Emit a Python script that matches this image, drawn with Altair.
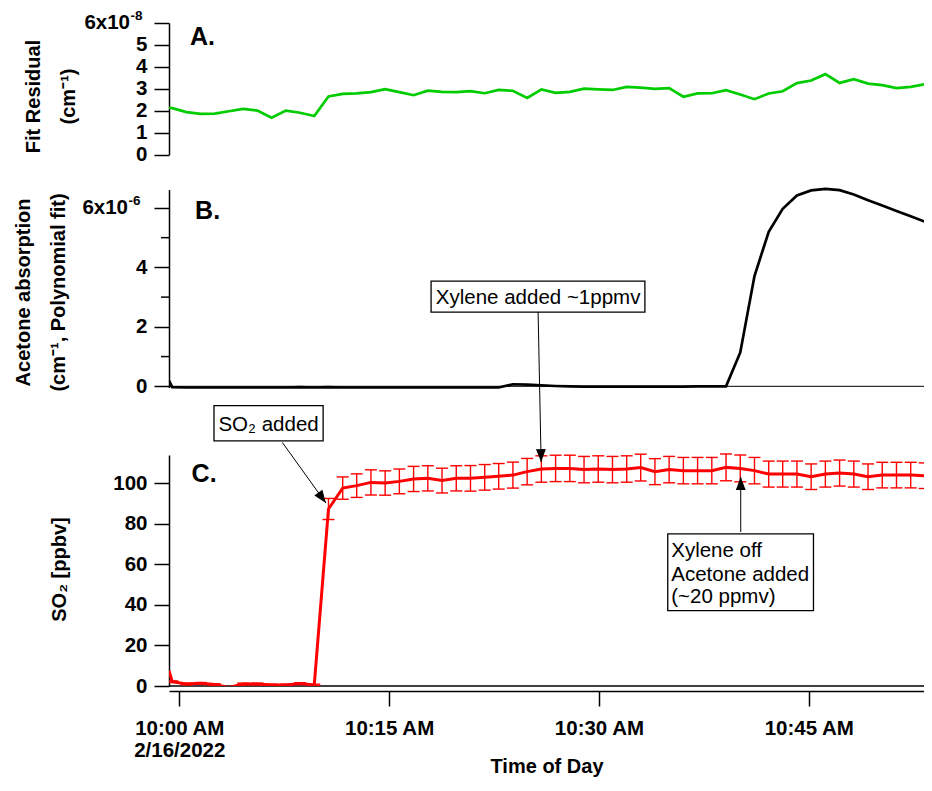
import altair as alt
import pandas as pd

FONT = "Liberation Sans"
DAY = "2022-02-16T"

# ---------------- data ----------------
times = ["09:59:16", "09:59:30", "10:00:31", "10:01:32", "10:02:32", "10:03:33", "10:04:34",
         "10:05:35", "10:06:36", "10:07:37", "10:08:38", "10:09:39", "10:10:40", "10:11:41",
         "10:12:41", "10:13:42", "10:14:43", "10:15:44", "10:16:45", "10:17:46", "10:18:47",
         "10:19:48", "10:20:49", "10:21:50", "10:22:50", "10:23:51", "10:24:52", "10:25:53",
         "10:26:54", "10:27:55", "10:28:56", "10:29:57", "10:30:58", "10:31:59", "10:32:59",
         "10:34:00", "10:35:01", "10:36:02", "10:37:03", "10:38:04", "10:39:05", "10:40:06",
         "10:41:07", "10:42:08", "10:43:08", "10:44:09", "10:45:10", "10:46:11", "10:47:12",
         "10:48:13", "10:49:14", "10:50:15", "10:51:16", "10:52:17", "10:53:17", "10:53:44"]

# fit residual, units of 1e-8 cm^-1
fit_residual = [2.14, 2.12, 1.94, 1.86, 1.87, 1.98, 2.09, 2.01, 1.68, 2.01, 1.91, 1.76,
                2.65, 2.77, 2.79, 2.85, 2.99, 2.85, 2.71, 2.92, 2.86, 2.85,
                2.90, 2.80, 2.95, 2.91, 2.59, 2.97, 2.82, 2.86, 3.01, 2.98,
                2.95, 3.09, 3.06, 3.00, 3.03, 2.64, 2.79, 2.80, 2.94, 2.74,
                2.53, 2.79, 2.89, 3.26, 3.38, 3.67, 3.27, 3.44, 3.24, 3.17,
                3.03, 3.09, 3.21, 3.06]

# acetone absorption, units of 1e-6 cm^-1
acetone = [0.19, -0.03, -0.04, -0.04, -0.04, -0.04, -0.04, -0.04, -0.04, -0.04, -0.03, -0.04,
           -0.03, -0.04, -0.04, -0.04, -0.04, -0.04, -0.04, -0.04, -0.04, -0.04,
           -0.04, -0.04, -0.04, 0.07, 0.06, 0.03, 0.01, 0.00, -0.01, -0.01,
           -0.01, -0.01, -0.01, -0.01, -0.01, -0.01, 0.00, 0.00, 0.00, 1.14,
           3.71, 5.20, 5.97, 6.42, 6.59, 6.64, 6.60, 6.45, 6.26, 6.08,
           5.90, 5.72, 5.54, 6.00]

# SO2 [ppbv]
so2 = [7.6, 2.1, 1.0, 1.3, 0.7, -0.7, 1.0, 1.0, 0.5, 0.5, 1.2, 0.5,
       87.2, 97.5, 98.7, 100.3, 100.0, 100.8, 102.0, 102.3, 101.2, 102.3,
       102.3, 102.8, 103.3, 103.9, 105.6, 106.9, 107.2, 107.2, 106.6, 106.9,
       106.6, 106.9, 107.6, 105.6, 106.6, 106.1, 106.1, 106.1, 107.7, 107.2,
       106.1, 104.4, 104.4, 104.4, 103.1, 104.4, 104.9, 104.4, 103.1, 103.9,
       103.9, 103.9, 103.6, 102.8]

so2_err = [None, 0.4, 0.4, 0.4, 0.4, 0.4, 0.4, 0.4, 0.4, 0.4, 0.4, 0.4,
           5.2, 5.5, 5.8, 6.2, 6.0, 6.1, 6.2, 6.2, 6.1, 6.2,
           6.3, 6.3, 6.3, 6.4, 6.5, 6.5, 6.5, 6.5, 6.5, 6.5,
           6.5, 6.5, 6.6, 6.4, 6.5, 6.5, 6.5, 6.5, 6.6, 6.6,
           6.5, 6.4, 6.4, 6.4, 6.3, 6.4, 6.4, 6.4, 6.3, 6.3,
           6.3, 6.3, 6.3, None]

# annotations (x = time of day, y in the units of the panel they sit on)
letter_labels = ["A.", "B.", "C."]
letter_times = ["10:00:46", "10:01:08", "10:00:53"]
letter_values = [5.35, 5.89, 104.5]

top_tick_label = "6x10"
exponent_labels = ["-8", "-6"]

box_t1 = ["10:02:29", "10:18:00", "10:34:55"]
box_t2 = ["10:10:17", "10:33:17", "10:45:20"]
box_v1 = [120.8, 184.2, 37.1]
box_v2 = [138.1, 199.5, 74.9]

center_texts = ["SO\u2082 added", "Xylene added ~1ppmv"]
center_times = ["10:06:23", "10:25:39"]
center_values = [128.8, 191.1]

left_texts = ["Xylene off", "Acetone added", "(~20 ppmv)"]
left_times = ["10:35:10", "10:35:10", "10:35:10"]
left_values = [66.4, 54.9, 43.7]

arrow_t1 = ["10:07:22", "10:25:39", "10:40:08"]
arrow_v1 = [120.0, 184.2, 75.9]
arrow_t2 = ["10:10:29", "10:25:52", "10:40:08"]
arrow_v2 = [90.1, 110.3, 103.0]
arrow_angle = [324.3, 358.9, 180.0]

minor_ticks_b = [1, 3, 5]

# ---------------- tables ----------------
def ts(lst):
    return [DAY + t for t in lst]

df = pd.DataFrame({"time": ts(times), "resid": fit_residual, "acetone": acetone,
                   "so2": so2, "err": so2_err})
err_df = df.dropna(subset=["err"]).copy()
err_df["lo"] = err_df["so2"] - err_df["err"]
err_df["hi"] = err_df["so2"] + err_df["err"]

letters = pd.DataFrame({"time": ts(letter_times), "v": letter_values, "label": letter_labels})
boxes = pd.DataFrame({"time": ts(box_t1), "t2": ts(box_t2), "v": box_v1, "v2": box_v2})
ctext = pd.DataFrame({"time": ts(center_times), "v": center_values, "label": center_texts})
ltext = pd.DataFrame({"time": ts(left_times), "v": left_values, "label": left_texts})
arrows = pd.DataFrame({"time": ts(arrow_t1), "t2": ts(arrow_t2), "v": arrow_v1, "v2": arrow_v2})
heads = pd.DataFrame({"time": ts(arrow_t2), "v": arrow_v2, "angle": arrow_angle})
zero_df = pd.DataFrame({"v": [0]})
minor_df = pd.DataFrame({"v": minor_ticks_b})
top_a = pd.DataFrame({"v": [6], "label": [top_tick_label], "exp": [exponent_labels[0]]})
top_b = pd.DataFrame({"v": [6], "label": [top_tick_label], "exp": [exponent_labels[1]]})

# ---------------- scales & axes ----------------
def dt(h, m, s=0):
    return alt.DateTime(year=2022, month=2, date=16, hours=h, minutes=m, seconds=s)

x_scale = alt.Scale(domain=[dt(9, 59, 16), dt(10, 53, 14)])
x_axis = alt.Axis(
    orient="bottom", values=[dt(10, 0), dt(10, 15), dt(10, 30), dt(10, 45)],
    labelExpr="minutes(datum.value) == 0 ? [timeFormat(datum.value, '%-I:%M %p'), "
              "timeFormat(datum.value, '%-m/%-d/%Y')] : timeFormat(datum.value, '%-I:%M %p')",
    title="Time of Day", offset=5, tickSize=15, tickWidth=1.5, tickColor="black",
    domainColor="black", domainWidth=1.5, labelFont=FONT, labelFontSize=20.5,
    labelFontWeight="bold", labelColor="black", labelPadding=12, labelLineHeight=22,
    labelFlush=False, labelOverlap=False, titleFont=FONT, titleFontSize=20,
    titleFontWeight="bold", titleColor="black", titleY=75, titleBaseline="middle",
    grid=False)


def X(field="time:T"):
    return alt.X(field, scale=x_scale, axis=x_axis)


def y_axis(values, label_expr, title, title_x, title_y, lh):
    return alt.Axis(
        orient="left", values=values, labelExpr=label_expr, title=title,
        titleX=title_x, titleY=title_y, titleAngle=270, titleAlign="center",
        titleBaseline="alphabetic", titleLineHeight=lh, titleFont=FONT, titleFontSize=20,
        titleFontWeight="bold", titleColor="black", labelFont=FONT, labelFontSize=20.5,
        labelFontWeight="bold", labelColor="black", labelPadding=7, tickSize=15,
        tickWidth=1.5, tickColor="black", domainColor="black", domainWidth=1.5,
        grid=False, labelOverlap=False, labelFlush=False)


a_scale = alt.Scale(domain=[0, 6], range=[131.7, 0], nice=False, zero=False)
a_axis = y_axis([0, 1, 2, 3, 4, 5, 6], "datum.value == 6 ? '' : datum.label",
                ["Fit Residual", "(cm\u207b\u00b9)"], -130, 73, 35)

b_scale = alt.Scale(domain=[-0.04, 6.62], range=[364.5, 166.5], nice=False, zero=False)
b_axis = y_axis([0, 2, 4, 6], "datum.value == 6 ? '' : datum.label",
                ["Acetone absorption", "(cm\u207b\u00b9, Polynomial fit)"], -139.5, 269, 35)

c_scale = alt.Scale(domain=[0, 113.8], range=[663, 432], nice=False, zero=False)
c_axis = y_axis([0, 20, 40, 60, 80, 100], "datum.label", "SO\u2082 [ppbv]", -104, 546, 24)


def YA(f):
    return alt.Y(f, scale=a_scale, axis=a_axis)


def YB(f):
    return alt.Y(f, scale=b_scale, axis=b_axis)


def YC(f):
    return alt.Y(f, scale=c_scale, axis=c_axis)


def letter_mark(rows):
    return alt.Chart(letters.iloc[rows]).mark_text(
        align="left", baseline="middle", font=FONT, fontSize=25, fontWeight="bold",
        color="black")


def top_label_marks(data, yfun, right_edge):
    base = alt.Chart(data).mark_text(
        align="right", baseline="middle", font=FONT, fontSize=20.5, fontWeight="bold",
        color="black").encode(y=yfun("v:Q"), x=alt.value(right_edge), text="label:N")
    sup = alt.Chart(data).mark_text(
        align="left", baseline="middle", font=FONT, fontSize=13.5, fontWeight="bold",
        color="black", dy=-7).encode(y=yfun("v:Q"), x=alt.value(right_edge + 0.5),
                                      text="exp:N")
    return base, sup


# ---------------- panel A ----------------
a_line = alt.Chart(df).mark_line(color="#00CC00", strokeWidth=2.7, clip=True).encode(
    x=X(), y=YA("resid:Q"))
a_letter = letter_mark([0]).encode(x=X(), y=YA("v:Q"), text="label:N")
a_top, a_sup = top_label_marks(top_a, YA, -39)
panel_a = alt.layer(a_line, a_letter, a_top, a_sup)

# ---------------- panel B ----------------
b_zero = alt.Chart(zero_df).mark_rule(color="black", strokeWidth=1).encode(y=YB("v:Q"))
b_minor = alt.Chart(minor_df).mark_rule(color="black", strokeWidth=1.5).encode(
    y=YB("v:Q"), x=alt.value(-8), x2=alt.value(0))
b_line = alt.Chart(df).mark_line(color="black", strokeWidth=2.7, clip=True).encode(
    x=X(), y=YB("acetone:Q"))
b_letter = letter_mark([1]).encode(x=X(), y=YB("v:Q"), text="label:N")
b_top, b_sup = top_label_marks(top_b, YB, -41)
panel_b = alt.layer(b_zero, b_minor, b_line, b_letter, b_top, b_sup)

# ---------------- panel C ----------------
c_zero = alt.Chart(zero_df).mark_rule(color="black", strokeWidth=1.3).encode(y=YC("v:Q"))
c_err = alt.Chart(err_df).mark_rule(color="red", strokeWidth=1.4, clip=True).encode(
    x=X(), y=YC("lo:Q"), y2="hi:Q")
c_cap_lo = alt.Chart(err_df).mark_tick(color="red", orient="horizontal", size=12,
                                       thickness=1.4, opacity=1, clip=True).encode(
    x=X(), y=YC("lo:Q"))
c_cap_hi = alt.Chart(err_df).mark_tick(color="red", orient="horizontal", size=12,
                                       thickness=1.4, opacity=1, clip=True).encode(
    x=X(), y=YC("hi:Q"))
c_line = alt.Chart(df).mark_line(color="red", strokeWidth=3, clip=True).encode(
    x=X(), y=YC("so2:Q"))
c_letter = letter_mark([2]).encode(x=X(), y=YC("v:Q"), text="label:N")

ann_box = alt.Chart(boxes).mark_rect(fill="white", stroke="black", strokeWidth=1.3).encode(
    x=X(), x2="t2:T", y=YC("v:Q"), y2="v2:Q")
ann_ctext = alt.Chart(ctext).mark_text(
    align="center", baseline="middle", font=FONT, fontSize=20.5, color="black"
).encode(x=X(), y=YC("v:Q"), text="label:N")
ann_ltext = alt.Chart(ltext).mark_text(
    align="left", baseline="middle", font=FONT, fontSize=20.5, color="black"
).encode(x=X(), y=YC("v:Q"), text="label:N")
ann_rule = alt.Chart(arrows).mark_rule(color="black", strokeWidth=1).encode(
    x=X(), x2="t2:T", y=YC("v:Q"), y2="v2:Q")
ann_head = alt.Chart(heads).mark_point(
    shape="M0,0 L-0.38,-1 L0.38,-1 Z", filled=True, color="black", size=676, opacity=1,
    strokeWidth=0
).encode(x=X(), y=YC("v:Q"), angle=alt.Angle("angle:Q", scale=None))

panel_c = alt.layer(c_zero, c_err, c_cap_lo, c_cap_hi, c_line, c_letter,
                    ann_rule, ann_head, ann_box, ann_ctext, ann_ltext)

chart = alt.layer(panel_a, panel_b, panel_c).resolve_scale(y="independent").properties(
    width=755, height=663,
    autosize=alt.AutoSizeParams(type="none"),
    padding={"left": 161, "top": 15, "right": 0, "bottom": 92},
    background="white",
).configure_view(strokeWidth=0)

chart.save("out.html", embed_options={"renderer": "svg", "actions": False})
